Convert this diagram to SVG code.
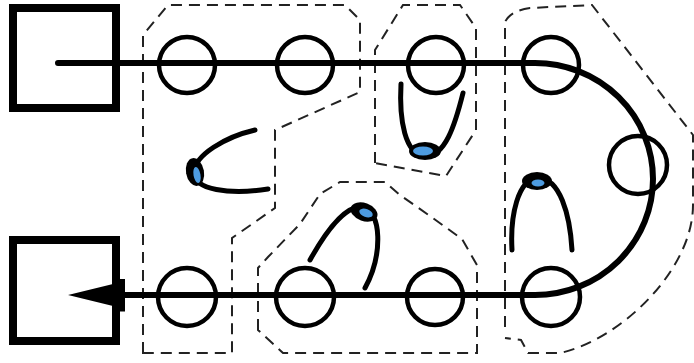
<svg xmlns="http://www.w3.org/2000/svg" width="694" height="363" viewBox="0 0 694 363">
<style>
.region{fill:none;stroke:#222;stroke-width:2;stroke-dasharray:11 7}
.box{fill:#fff;stroke:#000;stroke-width:8}
.ring{fill:none;stroke:#000;stroke-width:4.5}
.wire{fill:none;stroke:#000;stroke-width:6;stroke-linecap:round;stroke-linejoin:round}
.arm{fill:none;stroke:#000;stroke-width:5;stroke-linecap:round}
.blob{fill:#000}
.eye{fill:#4d9be0}
</style>
<defs>
<marker id="head" markerUnits="userSpaceOnUse" markerWidth="57" markerHeight="33" viewBox="0 0 57 33" refX="5" refY="16.5" orient="auto">
<path d="M0,0 H12 V5.5 L57,16.5 L12,27.5 V33 H0 Z" fill="#000"/>
</marker>
</defs>
<g id="regions">
<path id="regionA" class="region" d="M143,353 V35 L168,5 H345 L360,20 V92 L275,130 V208 L232,238 V353 Z"/>
<path id="regionB" class="region" d="M258,330 V268 L268,257 L300,224 L320,194 L340,182 H385 L400,195 L430,216 L462,239 L477,265 V353 H283 Z"/>
<path id="regionC" class="region" d="M375,163 V50 L403,5 H460 L476,28 V130 L446,176 Z"/>
<path id="regionD" class="region" d="M505,327 V22 Q510,11 530,8 L592,5 L693,135 V205 C693,270 620,340 560,353 H528 L521,340 L505,338"/>
</g>
<g id="box-in"><rect class="box" x="13" y="8" width="103" height="100"/></g>
<g id="box-out"><rect class="box" x="13" y="240" width="103" height="101"/></g>
<g id="connectors">
<path class="wire" d="M58,63 H535 A118 116 0 0 1 535,295 H120" marker-end="url(#head)"/>
</g>
<g id="c1"><circle class="ring" cx="187" cy="65" r="28"/></g>
<g id="c2"><circle class="ring" cx="305" cy="65" r="28"/></g>
<g id="c3"><circle class="ring" cx="436" cy="65" r="28"/></g>
<g id="c4"><circle class="ring" cx="551" cy="65" r="28"/></g>
<g id="c5"><circle class="ring" cx="638" cy="165" r="29"/></g>
<g id="c6"><circle class="ring" cx="551" cy="297" r="29"/></g>
<g id="c7"><circle class="ring" cx="435" cy="297" r="28"/></g>
<g id="c8"><circle class="ring" cx="305" cy="297" r="29"/></g>
<g id="c9"><circle class="ring" cx="187" cy="297" r="29"/></g>
<g id="loop1">
<path class="arm" d="M255,130 C225,137 195,155 194,172 C193,190 230,195 268,189"/>
<ellipse class="blob" cx="195" cy="172" rx="9" ry="14" transform="rotate(-10 195 172)"/>
<ellipse class="eye" cx="197" cy="175" rx="3.5" ry="8" transform="rotate(-10 197 175)"/>
</g>
<g id="loop2">
<path class="arm" d="M401,84 C399,120 405,155 425,156 C445,157 455,125 463,93"/>
<ellipse class="blob" cx="425" cy="151" rx="16" ry="9"/>
<ellipse class="eye" cx="423" cy="151" rx="10" ry="4.5"/>
</g>
<g id="loop3">
<path class="arm" d="M310,260 C325,233 345,205 362,207 C382,210 383,255 365,288"/>
<ellipse class="blob" cx="364" cy="212" rx="14" ry="9" transform="rotate(20 364 212)"/>
<ellipse class="eye" cx="366" cy="213" rx="7" ry="4" transform="rotate(20 366 213)"/>
</g>
<g id="loop4">
<path class="arm" d="M512,250 C510,215 518,180 537,178 C560,177 570,215 572,250"/>
<ellipse class="blob" cx="537" cy="181" rx="15" ry="9"/>
<ellipse class="eye" cx="538" cy="183" rx="6.5" ry="3.5"/>
</g>
</svg>
